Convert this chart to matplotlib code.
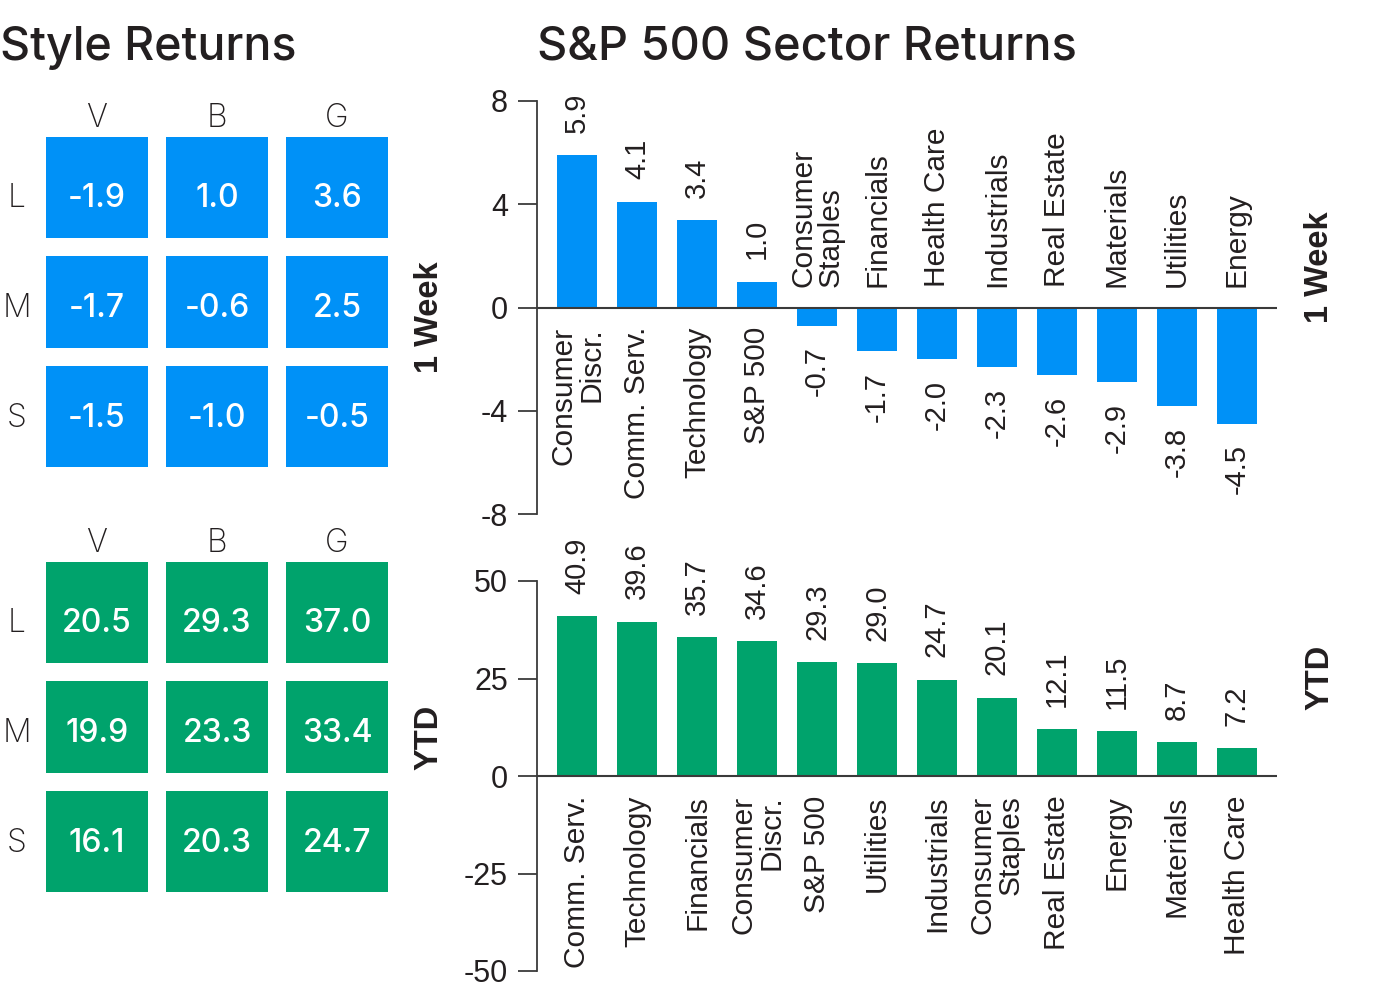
import matplotlib
matplotlib.use("Agg")
import matplotlib.pyplot as plt
from matplotlib.patches import Rectangle

plt.rcParams['axes.unicode_minus'] = False

# Style grid data (rows: L, M, S / cols: V, B, G)
style_rows = ["L", "M", "S"]
style_cols = ["V", "B", "G"]
style_week = [[-1.9, 1.0, 3.6],
              [-1.7, -0.6, 2.5],
              [-1.5, -1.0, -0.5]]
style_ytd = [[20.5, 29.3, 37.0],
             [19.9, 23.3, 33.4],
             [16.1, 20.3, 24.7]]

# Sector data
week_sectors = ["Consumer\nDiscr.", "Comm. Serv.", "Technology", "S&P 500",
                "Consumer\nStaples", "Financials", "Health Care", "Industrials",
                "Real Estate", "Materials", "Utilities", "Energy"]
week_values = [5.9, 4.1, 3.4, 1.0, -0.7, -1.7, -2.0, -2.3, -2.6, -2.9, -3.8, -4.5]

ytd_sectors = ["Comm. Serv.", "Technology", "Financials", "Consumer\nDiscr.",
               "S&P 500", "Utilities", "Industrials", "Consumer\nStaples",
               "Real Estate", "Energy", "Materials", "Health Care"]
ytd_values = [40.9, 39.6, 35.7, 34.6, 29.3, 29.0, 24.7, 20.1, 12.1, 11.5, 8.7, 7.2]

BLUE = "#0091F7"
GREEN = "#00A36C"
TEXT = "#231F20"
AXIS = "#3A3A3A"
HEAD_FONT = "Inter"
BAR_FONT = "Liberation Sans"

W, H = 1380, 992
fig = plt.figure(figsize=(W / 100, H / 100), dpi=100)


def px_axes(left, top, right, bottom):
    # axes placed by pixel box of the reference
    return fig.add_axes([left / W, 1 - bottom / H, (right - left) / W, (bottom - top) / H])


def style_grid(top, values, color):
    col_w, col_gap = 102, 18
    row_h, row_gap = [101, 92, 101], 18
    text_pitch, text_base = 110, 70
    total_h = sum(row_h) + row_gap * 2
    total_w = col_w * 3 + col_gap * 2
    ax = px_axes(46, top, 46 + total_w, top + total_h)
    ax.set_xlim(0, total_w)
    ax.set_ylim(total_h, 0)
    ax.axis("off")
    y = 0
    for i, row in enumerate(values):
        base = text_base + i * text_pitch
        for j, v in enumerate(row):
            x = j * (col_w + col_gap)
            ax.add_patch(Rectangle((x, y), col_w, row_h[i], color=color, lw=0))
            ax.text(x + col_w / 2, base, f"{v:.1f}", color="white",
                    ha="center", va="baseline", fontsize=23, fontweight="medium",
                    family=HEAD_FONT)
        ax.text(-29, base, style_rows[i], ha="center", va="baseline",
                fontsize=23, fontweight="light", color=TEXT, family=HEAD_FONT,
                clip_on=False)
        y += row_h[i] + row_gap
    for j, c in enumerate(style_cols):
        ax.text(j * (col_w + col_gap) + col_w / 2, -10, c, ha="center", va="baseline",
                fontsize=23, fontweight="light", color=TEXT, family=HEAD_FONT,
                clip_on=False)


def sector_bars(top, bottom, names, values, color, lim, ticks):
    ax = px_axes(537, top, 1277, bottom)
    x = list(range(len(values)))
    ax.bar(x, values, width=0.667, color=color, zorder=2)
    ax.set_xlim(-0.667, len(values) - 0.333)
    ax.set_ylim(-lim, lim)
    ax.set_yticks(ticks)
    ax.set_yticklabels([str(t) for t in ticks], family=BAR_FONT, fontsize=22, color=TEXT)
    ax.tick_params(axis="y", length=14, width=1.3, color=AXIS, pad=7)
    ax.set_xticks([])
    for s in ["top", "right", "bottom"]:
        ax.spines[s].set_visible(False)
    ax.spines["left"].set_color(AXIS)
    ax.spines["left"].set_linewidth(1.3)
    ax.axhline(0, color=AXIS, lw=1.5, zorder=3)
    for xi, v, name in zip(x, values, names):
        if v >= 0:
            ax.annotate(f"{v:.1f}", (xi, v), xytext=(0, 16), textcoords="offset points",
                        rotation=90, ha="center", va="bottom", fontsize=21,
                        family=BAR_FONT, color=TEXT)
            ax.annotate(name, (xi, 0), xytext=(0, -14), textcoords="offset points",
                        rotation=90, ha="center", va="top", multialignment="right",
                        fontsize=21.5, family=BAR_FONT, color=TEXT, linespacing=1.0)
        else:
            ax.annotate(f"{v:.1f}", (xi, v), xytext=(0, -15), textcoords="offset points",
                        rotation=90, ha="center", va="top", fontsize=21,
                        family=BAR_FONT, color=TEXT)
            ax.annotate(name, (xi, 0), xytext=(0, 15), textcoords="offset points",
                        rotation=90, ha="center", va="bottom", multialignment="left",
                        fontsize=21.5, family=BAR_FONT, color=TEXT, linespacing=1.0)
    return ax


# Titles
fig.text(0 / W, 1 - 60 / H, "Style Returns", fontsize=33.5, fontweight="medium",
         color=TEXT, family=HEAD_FONT, ha="left", va="baseline")
fig.text(537 / W, 1 - 60 / H, "S&P 500 Sector Returns", fontsize=33.8, fontweight="medium",
         color=TEXT, family=HEAD_FONT, ha="left", va="baseline")

style_grid(137, style_week, BLUE)
style_grid(562, style_ytd, GREEN)

sector_bars(101, 514, week_sectors, week_values, BLUE, 8, [-8, -4, 0, 4, 8])
sector_bars(581, 971, ytd_sectors, ytd_values, GREEN, 50, [-50, -25, 0, 25, 50])

# Side labels
for lx, ly, txt in [(429, 317, "1 Week"), (1320, 267, "1 Week"),
                    (429, 737, "YTD"), (1320, 677, "YTD")]:
    fig.text(lx / W, 1 - ly / H, txt, rotation=90, ha="center", va="center",
             fontsize=23.5, fontweight="bold", family=BAR_FONT, color=TEXT)

plt.savefig("out.png", dpi=100)
